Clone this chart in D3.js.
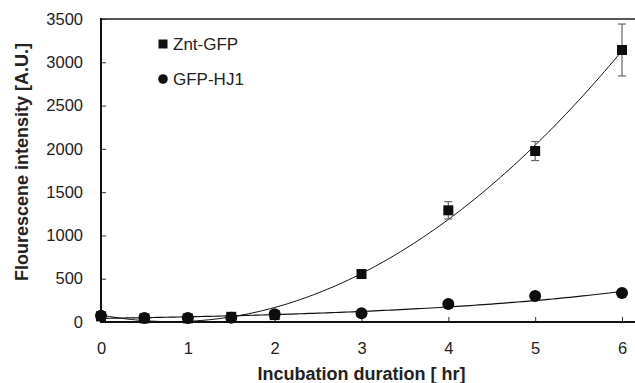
<!DOCTYPE html>
<html>
<head>
<meta charset="utf-8">
<script src="https://cdn.jsdelivr.net/npm/d3@7"></script>
<style>
  body { margin: 0; background: #fff; }
  svg { font-family: "Liberation Sans", Arial, sans-serif; }
  .tick text { fill: #222; }
</style>
</head>
<body>
<div id="chart"></div>
<script>
// data
var hours = [0, 0.5, 1, 1.5, 2, 3, 4, 5, 6];
var zntGfp = [65, 42, 42, 60, 80, 554, 1290, 1975, 3142];
var zntErr = [0, 0, 0, 0, 0, 0, 100, 110, 300];
var gfpHj1 = [73, 46, 46, 50, 89, 100, 208, 300, 335];
var xTicks = [0, 1, 2, 3, 4, 5, 6];
var yTicks = [0, 500, 1000, 1500, 2000, 2500, 3000, 3500];
var seriesNames = ["Znt-GFP", "GFP-HJ1"];

var width = 635, height = 383;
var margin = {top: 19, right: 13, bottom: 61, left: 101};

var svg = d3.select("#chart").append("svg")
  .attr("width", width)
  .attr("height", height);

var x = d3.scaleLinear().domain([0, 6]).range([margin.left, width - margin.right]);
var y = d3.scaleLinear().domain([0, 3500]).range([height - margin.bottom, margin.top]);

// trendlines: quadratic least squares for Znt-GFP, exponential for GFP-HJ1
function polyFit2(xs, ys) {
  var s = [0, 0, 0, 0, 0], t = [0, 0, 0];
  xs.forEach(function (xv, i) {
    for (var k = 0; k < 5; k++) s[k] += Math.pow(xv, k);
    for (var k = 0; k < 3; k++) t[k] += Math.pow(xv, k) * ys[i];
  });
  var A = [[s[0], s[1], s[2], t[0]], [s[1], s[2], s[3], t[1]], [s[2], s[3], s[4], t[2]]];
  for (var i = 0; i < 3; i++) {
    for (var j = i + 1; j < 3; j++) {
      var f = A[j][i] / A[i][i];
      for (var k = i; k < 4; k++) A[j][k] -= f * A[i][k];
    }
  }
  var c = [0, 0, 0];
  for (var i = 2; i >= 0; i--) {
    var v = A[i][3];
    for (var k = i + 1; k < 3; k++) v -= A[i][k] * c[k];
    c[i] = v / A[i][i];
  }
  return function (xv) { return c[0] + c[1] * xv + c[2] * xv * xv; };
}

function expFit(xs, ys) {
  var ly = ys.map(Math.log);
  var mx = d3.mean(xs), my = d3.mean(ly);
  var sxy = d3.sum(xs, function (xv, i) { return (xv - mx) * (ly[i] - my); });
  var sxx = d3.sum(xs, function (xv) { return (xv - mx) * (xv - mx); });
  var b = sxy / sxx, a = Math.exp(my - b * mx);
  return function (xv) { return a * Math.exp(b * xv); };
}

var zntFit = polyFit2(hours, zntGfp);
var gfpFit = expFit(hours, gfpHj1);
var fitX = d3.range(0, 6.001, 0.05);

var line = d3.line()
  .x(function (d) { return x(d[0]); })
  .y(function (d) { return y(d[1]); });

// top border
svg.append("line")
  .attr("x1", margin.left).attr("x2", width)
  .attr("y1", y(3500)).attr("y2", y(3500))
  .attr("stroke", "#555").attr("stroke-width", 2);

// axes
var xAxis = svg.append("g")
  .attr("transform", "translate(0," + y(0) + ")")
  .call(d3.axisBottom(x).tickValues(xTicks).tickFormat(d3.format("d"))
    .tickSize(-5).tickPadding(20).tickSizeOuter(0));
xAxis.select(".domain").remove();
xAxis.selectAll(".tick line").attr("stroke", "#333");
xAxis.selectAll("text").style("font-size", "16.5px");

var yAxis = svg.append("g")
  .attr("transform", "translate(" + margin.left + ",0)")
  .call(d3.axisLeft(y).tickValues(yTicks).tickFormat(d3.format("d"))
    .tickSize(-5).tickPadding(18).tickSizeOuter(0));
yAxis.select(".domain").remove();
yAxis.selectAll(".tick line").attr("stroke", "#333");
yAxis.selectAll("text").style("font-size", "16.5px");

svg.append("line")
  .attr("x1", margin.left).attr("x2", width)
  .attr("y1", y(0)).attr("y2", y(0))
  .attr("stroke", "#111").attr("stroke-width", 2);
svg.append("line")
  .attr("x1", margin.left).attr("x2", margin.left)
  .attr("y1", y(0) + 1).attr("y2", y(3500) - 1)
  .attr("stroke", "#111").attr("stroke-width", 2);

// trendlines
svg.append("path")
  .datum(fitX.map(function (d) { return [d, zntFit(d)]; }))
  .attr("d", line)
  .attr("fill", "none").attr("stroke", "#111").attr("stroke-width", 1);
svg.append("path")
  .datum(fitX.map(function (d) { return [d, gfpFit(d)]; }))
  .attr("d", line)
  .attr("fill", "none").attr("stroke", "#111").attr("stroke-width", 1.2);

// error bars
var errs = hours.map(function (h, i) { return {h: h, v: zntGfp[i], e: zntErr[i]}; })
  .filter(function (d) { return d.e > 0; });
var eb = svg.selectAll(".err").data(errs).enter().append("g")
  .attr("stroke", "#666").attr("stroke-width", 1.2);
eb.append("line")
  .attr("x1", function (d) { return x(d.h); }).attr("x2", function (d) { return x(d.h); })
  .attr("y1", function (d) { return y(d.v - d.e); }).attr("y2", function (d) { return y(d.v + d.e); });
eb.append("line")
  .attr("x1", function (d) { return x(d.h) - 4; }).attr("x2", function (d) { return x(d.h) + 4; })
  .attr("y1", function (d) { return y(d.v + d.e); }).attr("y2", function (d) { return y(d.v + d.e); });
eb.append("line")
  .attr("x1", function (d) { return x(d.h) - 4; }).attr("x2", function (d) { return x(d.h) + 4; })
  .attr("y1", function (d) { return y(d.v - d.e); }).attr("y2", function (d) { return y(d.v - d.e); });

// markers
var sq = 10;
svg.selectAll(".sq").data(zntGfp).enter().append("rect")
  .attr("x", function (d, i) { return x(hours[i]) - sq / 2; })
  .attr("y", function (d) { return y(d) - sq / 2; })
  .attr("width", sq).attr("height", sq)
  .attr("fill", "#0d0d0d");
svg.selectAll(".dot").data(gfpHj1).enter().append("circle")
  .attr("cx", function (d, i) { return x(hours[i]); })
  .attr("cy", function (d) { return y(d); })
  .attr("r", 6)
  .attr("fill", "#0d0d0d");

// legend
var legend = svg.selectAll(".legend").data(seriesNames).enter().append("g")
  .attr("transform", function (d, i) { return "translate(163," + (44 + i * 35) + ")"; });
legend.each(function (d, i) {
  var g = d3.select(this);
  if (i === 0) {
    g.append("rect").attr("x", -4.5).attr("y", -4.5).attr("width", 9).attr("height", 9).attr("fill", "#111");
  } else {
    g.append("circle").attr("r", 4.8).attr("fill", "#111");
  }
});
legend.append("text")
  .attr("x", 10).attr("dy", "0.36em")
  .style("font-size", "17px").attr("fill", "#222")
  .text(function (d) { return d; });

// axis titles
svg.append("text")
  .attr("x", (x(0) + x(6)) / 2).attr("y", 380)
  .attr("text-anchor", "middle")
  .style("font-size", "18px").style("font-weight", "bold").attr("fill", "#222")
  .text("Incubation duration [ hr]");

svg.append("text")
  .attr("transform", "translate(28,162) rotate(-90)")
  .attr("text-anchor", "middle")
  .style("font-size", "18px").style("font-weight", "bold").attr("fill", "#222")
  .text("Flourescene intensity [A.U.]");
</script>
</body>
</html>
